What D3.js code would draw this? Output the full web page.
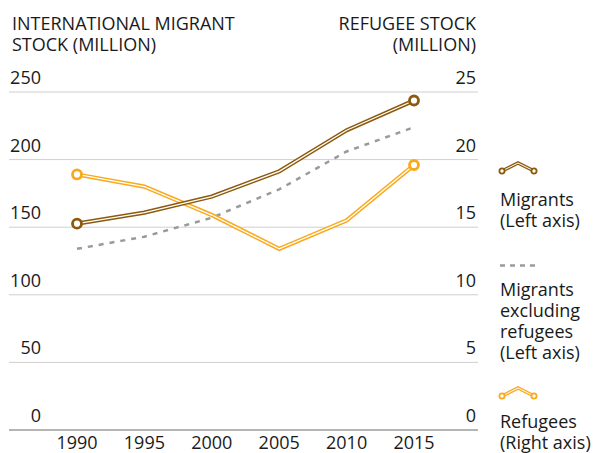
<!DOCTYPE html>
<html>
<head>
<meta charset="utf-8">
<script src="https://cdn.jsdelivr.net/npm/d3@7"></script>
<style>
  body { margin: 0; background: #fff; }
  text { font-family: "Open Sans", sans-serif; fill: #1a1a1a; }
</style>
</head>
<body>
<script>
const years = [1990, 1995, 2000, 2005, 2010, 2015];
const migrants = [152.6, 160.8, 172.7, 191.3, 221.7, 243.7];
const migrantsExRefugees = [134, 143, 157, 178, 206, 224];
const refugees = [18.9, 18.0, 15.9, 13.4, 15.5, 19.6];
const leftTicks = [0, 50, 100, 150, 200, 250];
const rightTicks = [0, 5, 10, 15, 20, 25];

const brown = "#8c5a0c";
const orange = "#f9a91c";
const grey = "#9a9a9a";

const width = 598, height = 453;
const gridLeft = 9, gridRight = 478;
const fs = "18px";

const svg = d3.select("body").append("svg")
  .attr("width", width)
  .attr("height", height);

const x = d3.scalePoint().domain(years).range([77, 414]);
const yLeft = d3.scaleLinear().domain([0, 250]).range([430, 92]);
const yRight = d3.scaleLinear().domain([0, 25]).range([430, 92]);

// titles
const titleL = svg.append("text").attr("x", 12).attr("y", 30).style("font-size", fs);
titleL.append("tspan").attr("x", 12).text("INTERNATIONAL MIGRANT");
titleL.append("tspan").attr("x", 12).attr("dy", 21).text("STOCK (MILLION)");
const titleR = svg.append("text").attr("y", 30).attr("text-anchor", "end").style("font-size", fs);
titleR.append("tspan").attr("x", 476).text("REFUGEE STOCK");
titleR.append("tspan").attr("x", 476).attr("dy", 21).text("(MILLION)");

// grid
svg.selectAll(".grid")
  .data(leftTicks)
  .enter().append("line")
  .attr("x1", gridLeft).attr("x2", gridRight)
  .attr("y1", d => yLeft(d)).attr("y2", d => yLeft(d))
  .attr("stroke", d => d === 0 ? "#b5b5b5" : "#cfcfcf")
  .attr("stroke-width", d => d === 0 ? 2 : 1);

svg.selectAll(".ltick")
  .data(leftTicks)
  .enter().append("text")
  .attr("x", 41).attr("y", d => yLeft(d) - 8)
  .attr("text-anchor", "end")
  .style("font-size", fs)
  .text(d => d);

svg.selectAll(".rtick")
  .data(rightTicks)
  .enter().append("text")
  .attr("x", 476).attr("y", d => yRight(d) - 8)
  .attr("text-anchor", "end")
  .style("font-size", fs)
  .text(d => d);

svg.selectAll(".xtick")
  .data(years)
  .enter().append("text")
  .attr("x", d => x(d)).attr("y", 449)
  .attr("text-anchor", "middle")
  .style("font-size", fs)
  .text(d => d);

// lines
const lineL = d3.line().x((d, i) => x(years[i])).y(d => yLeft(d));
const lineR = d3.line().x((d, i) => x(years[i])).y(d => yRight(d));

svg.append("path")
  .attr("d", lineL(migrantsExRefugees))
  .attr("fill", "none")
  .attr("stroke", grey)
  .attr("stroke-width", 2.5)
  .attr("stroke-dasharray", "5,6");

function doubleLine(d, color) {
  svg.append("path").attr("d", d).attr("fill", "none")
    .attr("stroke", color).attr("stroke-width", 4.2);
  svg.append("path").attr("d", d).attr("fill", "none")
    .attr("stroke", "#fff").attr("stroke-width", 1.3);
}

function endDots(pts, color) {
  svg.selectAll(null)
    .data(pts)
    .enter().append("circle")
    .attr("cx", d => d[0]).attr("cy", d => d[1])
    .attr("r", 4.5)
    .attr("fill", "#fff")
    .attr("stroke", color)
    .attr("stroke-width", 2.8);
}

doubleLine(lineR(refugees), orange);
doubleLine(lineL(migrants), brown);
endDots([[x(1990), yRight(refugees[0])], [x(2015), yRight(refugees[5])]], orange);
endDots([[x(1990), yLeft(migrants[0])], [x(2015), yLeft(migrants[5])]], brown);

// legend
function legendIcon(y0, color) {
  const pts = [[502, y0 + 4], [518, y0 - 4], [534, y0 + 4]];
  const d = d3.line()(pts);
  svg.append("path").attr("d", d).attr("fill", "none").attr("stroke", color).attr("stroke-width", 3.4);
  svg.append("path").attr("d", d).attr("fill", "none").attr("stroke", "#fff").attr("stroke-width", 1);
  svg.selectAll(null)
    .data([pts[0], pts[2]])
    .enter().append("circle")
    .attr("cx", d => d[0]).attr("cy", d => d[1])
    .attr("r", 2.6).attr("fill", "#fff")
    .attr("stroke", color).attr("stroke-width", 1.8);
}

function legendText(lines, y0) {
  const t = svg.append("text").attr("y", y0).style("font-size", fs);
  lines.forEach((s, i) => {
    t.append("tspan").attr("x", 500).attr("dy", i === 0 ? 0 : 21).text(s);
  });
}

legendIcon(167, brown);
legendText(["Migrants", "(Left axis)"], 206);

svg.append("line")
  .attr("x1", 500).attr("x2", 537)
  .attr("y1", 265.5).attr("y2", 265.5)
  .attr("stroke", grey).attr("stroke-width", 2.5)
  .attr("stroke-dasharray", "5,5");
legendText(["Migrants", "excluding", "refugees", "(Left axis)"], 296);

legendIcon(392, orange);
legendText(["Refugees", "(Right axis)"], 428);
</script>
</body>
</html>
